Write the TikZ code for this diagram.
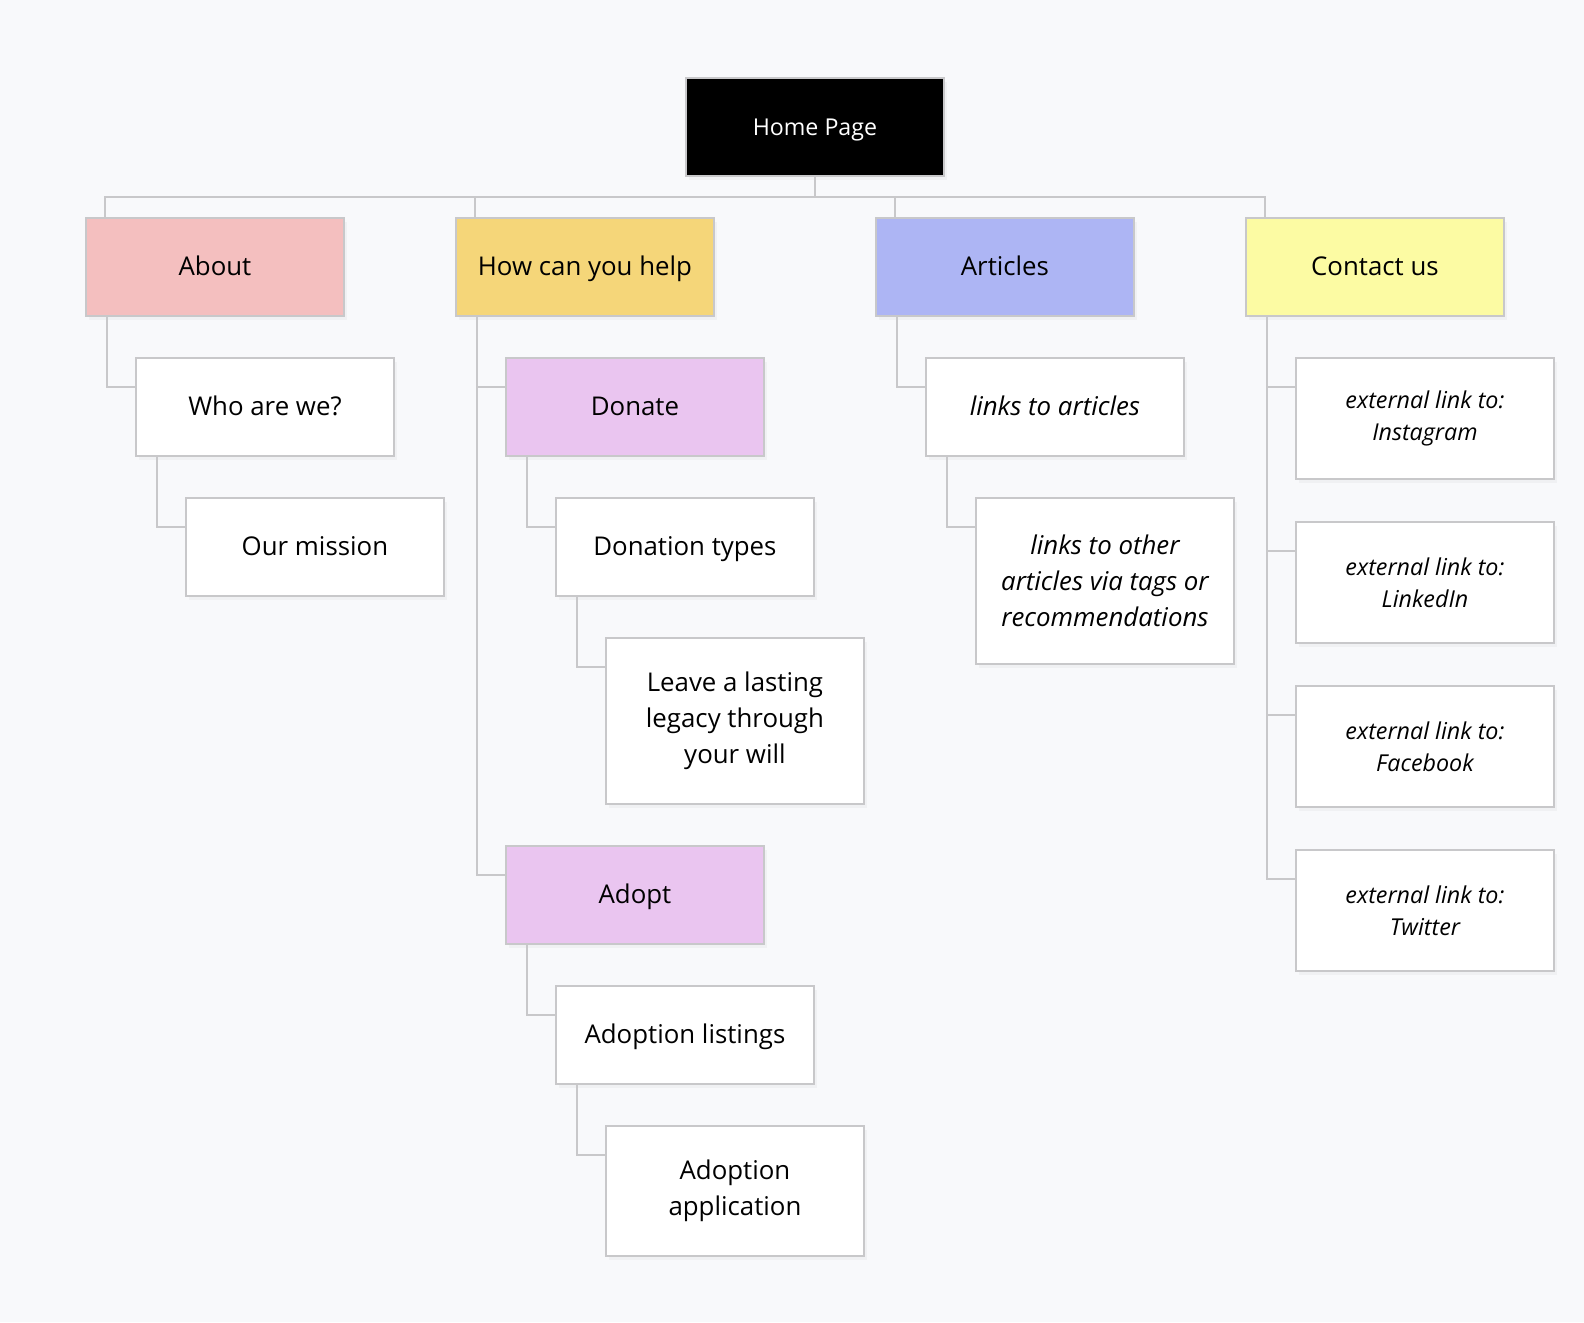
\documentclass[tikz,border=0pt]{standalone}
\usepackage{fontspec}
\setmainfont{Open Sans}
\usetikzlibrary{shadows}

\definecolor{bgGray}{HTML}{F8F9FB}
\definecolor{lineGray}{HTML}{C8C8CA}
\definecolor{aboutPink}{HTML}{F4BFBF}
\definecolor{helpGold}{HTML}{F5D679}
\definecolor{articleBlue}{HTML}{ADB5F4}
\definecolor{contactYellow}{HTML}{FCFBA3}
\definecolor{subViolet}{HTML}{EAC5F0}

\begin{document}
\begin{tikzpicture}[x=0.02cm,y=-0.02cm,
    page/.style={draw=lineGray,line width=1.1pt,fill=white,anchor=north west,
        minimum width=5.16cm,minimum height=1.96cm,align=center,
        text height=1.04em,text depth=0.1em,
        font=\fontsize{14.7}{20.5}\selectfont,
        drop shadow={opacity=0.06,shadow xshift=0.06cm,shadow yshift=-0.08cm}},
    multi/.style={text height={},text depth={}},
    tall/.style={multi,minimum height=3.32cm},
    social/.style={multi,minimum height=2.42cm,font=\fontsize{13.25}{18.4}\selectfont\itshape},
    link/.style={draw=lineGray,line width=1.1pt}]

    \fill[bgGray] (0,0) rectangle (1584,1322);
    \useasboundingbox (0,0) rectangle (1584,1322);

    % top level
    \node[page,fill=black,text=white,font=\fontsize{13.2}{18}\selectfont] (Home) at (685,77) {Home Page};
    \node[page,fill=aboutPink] (About) at (85,217) {About};
    \node[page,fill=helpGold] (Help) at (455,217) {How can you help};
    \node[page,fill=articleBlue] (Articles) at (875,217) {Articles};
    \node[page,fill=contactYellow] (Contact) at (1245,217) {Contact us};

    % about
    \node[page] (Who) at (135,357) {Who are we?};
    \node[page] (Mission) at (185,497) {Our mission};

    % how can you help
    \node[page,fill=subViolet] (Donate) at (505,357) {Donate};
    \node[page] (Types) at (555,497) {Donation types};
    \node[page,tall] (Legacy) at (605,637)
        {Leave a lasting\\legacy through\\your will};
    \node[page,fill=subViolet] (Adopt) at (505,845) {Adopt};
    \node[page] (Listings) at (555,985) {Adoption listings};
    \node[page,multi,minimum height=2.6cm] (Application) at (605,1125)
        {Adoption\\application};

    % articles
    \node[page,font=\fontsize{14.7}{20.5}\selectfont\itshape] (Links) at (925,357)
        {links to articles};
    \node[page,tall,font=\fontsize{14.7}{20.5}\selectfont\itshape] (Other) at (975,497)
        {links to other\\articles via tags or\\recommendations};

    % contact
    \node[page,social] (Insta) at (1295,357) {external link to:\\Instagram};
    \node[page,social] (LinkedIn) at (1295,521) {external link to:\\LinkedIn};
    \node[page,social] (Facebook) at (1295,685) {external link to:\\Facebook};
    \node[page,social] (Twitter) at (1295,849) {external link to:\\Twitter};

    % bus under the home page
    \draw[link] ([xshift=0.4cm]About.north west) -- ++(0,-20) coordinate (Bus)
        -| ([xshift=0.4cm]Contact.north west);
    \draw[link] ([xshift=0.4cm]Help.north west) -- ([xshift=0.4cm]Help.north west |- Bus);
    \draw[link] ([xshift=0.4cm]Articles.north west) -- ([xshift=0.4cm]Articles.north west |- Bus);
    \draw[link] (Home.south) -- (Home.south |- Bus);

    % elbows to the children
    \draw[link] ([xshift=0.44cm]About.south west) |- ([yshift=-0.6cm]Who.north west);
    \draw[link] ([xshift=0.44cm]Who.south west) |- ([yshift=-0.6cm]Mission.north west);
    \draw[link] ([xshift=0.44cm]Help.south west) |- ([yshift=-0.6cm]Donate.north west);
    \draw[link] ([xshift=0.44cm]Help.south west) |- ([yshift=-0.6cm]Adopt.north west);
    \draw[link] ([xshift=0.44cm]Donate.south west) |- ([yshift=-0.6cm]Types.north west);
    \draw[link] ([xshift=0.44cm]Types.south west) |- ([yshift=-0.6cm]Legacy.north west);
    \draw[link] ([xshift=0.44cm]Adopt.south west) |- ([yshift=-0.6cm]Listings.north west);
    \draw[link] ([xshift=0.44cm]Listings.south west) |- ([yshift=-0.6cm]Application.north west);
    \draw[link] ([xshift=0.44cm]Articles.south west) |- ([yshift=-0.6cm]Links.north west);
    \draw[link] ([xshift=0.44cm]Links.south west) |- ([yshift=-0.6cm]Other.north west);
    \foreach \s in {Insta,LinkedIn,Facebook,Twitter}
        \draw[link] ([xshift=0.44cm]Contact.south west) |- ([yshift=-0.6cm]\s.north west);
\end{tikzpicture}
\end{document}
